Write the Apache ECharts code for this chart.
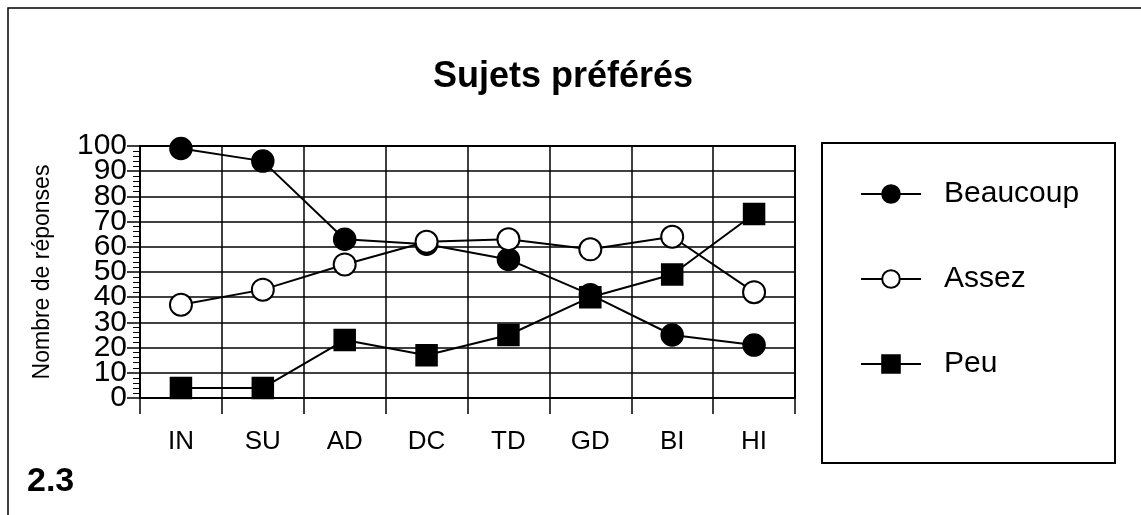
<!DOCTYPE html>
<html>
<head>
<meta charset="utf-8">
<script src="https://cdn.jsdelivr.net/npm/echarts@6/dist/echarts.min.js"></script>
<style>
  html, body { margin: 0; padding: 0; background: #fff; }
  #chart { width: 1141px; height: 515px; }
</style>
</head>
<body>
<div id="chart"></div>
<script>
// sujets (axe des x)
var categories = ['IN', 'SU', 'AD', 'DC', 'TD', 'GD', 'BI', 'HI'];
// nombre de réponses par niveau d'intérêt
var beaucoup = [99, 94, 63, 61, 55, 41, 25, 21];
var assez = [37, 43, 53, 62, 63, 59, 64, 42];
var peu = [4, 4, 23, 17, 25, 40, 49, 73];
var yTicks = [0, 10, 20, 30, 40, 50, 60, 70, 80, 90, 100];

var font = 'Liberation Sans, Arial, Helvetica, sans-serif';

function draw_sujets(){
    var chart = echarts.init(document.getElementById('chart'));

    var lineSerie = function(name, data, symbol, size){
        return {
            name: name,
            type: 'line',
            data: data,
            symbol: symbol,
            symbolSize: size,
            showAllSymbol: true,
            lineStyle: { color: '#000', width: 2 },
            itemStyle: { color: '#000', borderColor: '#000', borderWidth: 1.5 },
            emphasis: { disabled: true }
        };
    };

    var yLabel = { fontFamily: font, fontSize: 30, color: '#000', margin: 13 };

    var option = {
        animation: false,
        backgroundColor: '#fff',
        title: {
            text: 'Sujets préférés',
            left: 428,
            top: 54,
            textStyle: { fontFamily: font, fontWeight: 'bold', fontSize: 36, color: '#000' }
        },
        legend: {
            orient: 'vertical',
            left: 855,
            top: 174,
            itemWidth: 60,
            itemHeight: 22,
            itemGap: 55,
            data: ['Beaucoup', 'Assez', 'Peu'],
            textStyle: { fontFamily: font, fontSize: 30, lineHeight: 30, color: '#000', padding: [0, 0, 0, 18] }
        },
        graphic: [
            { type: 'rect', shape: { x: 8, y: 8, width: 1140, height: 520 },
              style: { fill: 'none', stroke: '#000', lineWidth: 1.5 } },
            { type: 'rect', shape: { x: 822, y: 143, width: 293, height: 320 },
              style: { fill: 'none', stroke: '#000', lineWidth: 2 } },
            { type: 'text', left: 27, top: 465,
              style: { text: '2.3', font: 'bold 34px ' + font, fill: '#000' } }
        ],
        grid: {
            left: 140, right: 346, top: 146, bottom: 117,
            show: true, borderColor: '#000', borderWidth: 2
        },
        xAxis: {
            type: 'category',
            data: categories,
            boundaryGap: true,
            axisLine: { lineStyle: { color: '#000', width: 2 } },
            axisTick: { show: true, length: 16, lineStyle: { color: '#000', width: 1.5 } },
            splitLine: { show: true, lineStyle: { color: '#000', width: 1.5 } },
            axisLabel: { fontFamily: font, fontSize: 26, color: '#000', margin: 31 }
        },
        yAxis: [{
            type: 'value',
            min: yTicks[0],
            max: yTicks[yTicks.length - 1],
            interval: 10,
            name: 'Nombre de réponses',
            nameLocation: 'middle',
            nameGap: 86,
            nameRotate: 90,
            nameTextStyle: { fontFamily: font, fontSize: 23, color: '#000' },
            axisLine: { show: true, lineStyle: { color: '#000', width: 2 } },
            axisTick: { show: true, length: 13, lineStyle: { color: '#000', width: 1.5 } },
            minorTick: { show: true, splitNumber: 5, length: 7, lineStyle: { color: '#000', width: 1 } },
            splitLine: { show: true, lineStyle: { color: '#000', width: 1.5 } },
            axisLabel: Object.assign({ showMinLabel: false, showMaxLabel: false }, yLabel)
        }, {
            // deuxième axe superposé : seulement les étiquettes 0 et 100
            type: 'value',
            position: 'left',
            min: yTicks[0],
            max: yTicks[yTicks.length - 1],
            interval: yTicks[yTicks.length - 1],
            axisLine: { show: false },
            axisTick: { show: false },
            splitLine: { show: false },
            axisLabel: Object.assign({ showMinLabel: true, showMaxLabel: true }, yLabel)
        }],
        series: [
            lineSerie('Beaucoup', beaucoup, 'circle', 22),
            lineSerie('Assez', assez, 'emptyCircle', 22),
            lineSerie('Peu', peu, 'rect', 21)
        ]
    };
    chart.setOption(option);
}
draw_sujets();
</script>
</body>
</html>
